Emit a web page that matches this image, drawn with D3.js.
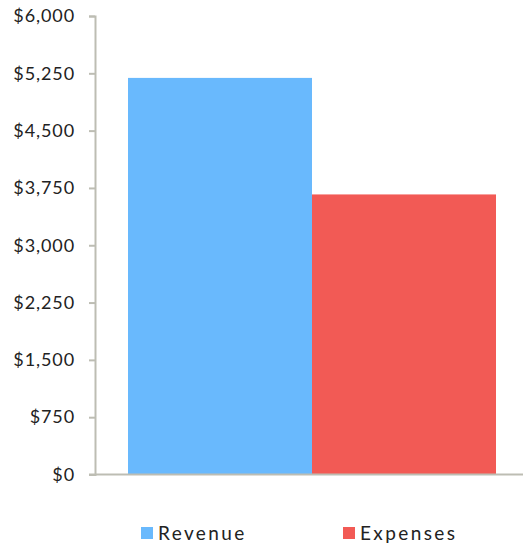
<!DOCTYPE html>
<html>
<head>
<meta charset="utf-8">
<script src="https://cdn.jsdelivr.net/npm/d3@7"></script>
<style>
  html, body { margin: 0; padding: 0; background: #fff; }
  svg text { font-family: "Lato", "DejaVu Sans", sans-serif; fill: #222; }
</style>
</head>
<body>
<div id="chart"></div>
<script>
const seriesNames = ['Revenue', 'Expenses'];
const seriesValues = [5190, 3665];
const seriesColors = ['#69b9fd', '#f25a55'];
const yTicks = [0, 750, 1500, 2250, 3000, 3750, 4500, 5250, 6000];

const W = 523, H = 547;
const svg = d3.select('#chart').append('svg')
  .attr('width', W)
  .attr('height', H);

const y = d3.scaleLinear().domain([0, 6000]).range([474.5, 16]);
const x = d3.scaleBand().domain(seriesNames).range([128, 496]).padding(0);

// y axis
const yAxis = svg.append('g')
  .attr('transform', 'translate(95,0)')
  .call(d3.axisLeft(y).tickValues(yTicks).tickSize(6).tickPadding(14)
    .tickFormat(d => '$' + d3.format(',')(d)));
yAxis.select('.domain').attr('stroke', '#bdbdb3').attr('stroke-width', 2);
yAxis.selectAll('.tick line').attr('stroke', '#bdbdb3').attr('stroke-width', 2);
yAxis.selectAll('text').style('font-size', '18px').style('letter-spacing', '0.9px').attr('fill', '#222');

// bars
svg.selectAll('.bar')
  .data(seriesNames)
  .enter().append('rect')
  .attr('x', d => x(d))
  .attr('y', (d, i) => y(seriesValues[i]))
  .attr('width', x.bandwidth())
  .attr('height', (d, i) => y(0) - y(seriesValues[i]))
  .attr('fill', (d, i) => seriesColors[i]);

// x baseline
svg.append('line')
  .attr('x1', 89).attr('x2', 523)
  .attr('y1', y(0)).attr('y2', y(0))
  .attr('stroke', '#bdbdb3').attr('stroke-width', 2);

// legend
const legendX = [141, 343];
const legend = svg.selectAll('.legend')
  .data(seriesNames)
  .enter().append('g')
  .attr('transform', (d, i) => `translate(${legendX[i]},527)`);
legend.append('rect')
  .attr('width', 12).attr('height', 12)
  .attr('fill', (d, i) => seriesColors[i]);
legend.append('text')
  .attr('x', 17).attr('y', 13)
  .style('font-size', '19px')
  .style('letter-spacing', '2.4px')
  .text(d => d);
</script>
</body>
</html>
